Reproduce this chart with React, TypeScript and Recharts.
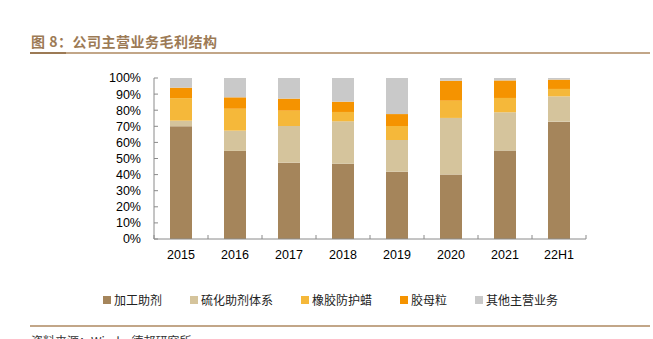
import React from 'react';
import { BarChart, Bar, XAxis, YAxis, Legend } from 'recharts';

const categories = ['2015', '2016', '2017', '2018', '2019', '2020', '2021', '22H1'];
const jiagong = [70, 54.7, 47.4, 46.8, 41.8, 40, 54.9, 72.9];
const liuhua = [3.5, 12.6, 22.8, 26.3, 19.7, 35.2, 23.8, 15.7];
const fanghula = [14, 13.6, 9.5, 5.8, 8.7, 10.7, 8.9, 4.6];
const jiaomuli = [6.5, 7.1, 7.5, 6.4, 7.4, 12.4, 10.9, 5.8];
const other = [6, 12, 12.8, 14.7, 22.4, 1.7, 1.5, 1.0];
const yTicks = [0, 10, 20, 30, 40, 50, 60, 70, 80, 90, 100];

const seriesNames = ['加工助剂', '硫化助剂体系', '橡胶防护蜡', '胶母粒', '其他主营业务'];
const seriesColors = ['#A5855B', '#D5C49C', '#F5B83A', '#F59300', '#C9C9C9'];
const seriesValues = [jiagong, liuhua, fanghula, jiaomuli, other];

const data = categories.map((c, i) => {
  const row: Record<string, any> = { name: c };
  seriesNames.forEach((s, k) => {
    row[s] = seriesValues[k][i];
  });
  return row;
});

const AXIS = '#8a8a8a';
const TICK_FONT = '"Liberation Sans", Arial, sans-serif';
const CJK = '"Noto Sans CJK SC", sans-serif';

const XTick = (props: any) => {
  const { x, y, payload, index } = props;
  const off = payload && payload.offset ? payload.offset : 0;
  const axisY = y - 11;
  return (
    <g>
      <line x1={x - off} x2={x - off} y1={axisY} y2={axisY - 4} stroke={AXIS} />
      {index === categories.length - 1 && (
        <line x1={x + off} x2={x + off} y1={axisY} y2={axisY - 4} stroke={AXIS} />
      )}
      <text x={x} y={y} dy="0.71em" textAnchor="middle" fill="#000" fontSize={12.5} fontFamily={TICK_FONT}>
        {payload.value}
      </text>
    </g>
  );
};

const LegendContent = () => (
  <div style={{ display: 'flex', alignItems: 'center', paddingLeft: 103, fontFamily: CJK, fontSize: 12, color: '#222', height: 17 }}>
    {seriesNames.map((s, k) => (
      <div key={s} style={{ display: 'flex', alignItems: 'center', marginRight: 28 }}>
        <span style={{ display: 'inline-block', width: 8, height: 8, background: seriesColors[k], marginRight: 3 }} />
        <span>{s}</span>
      </div>
    ))}
  </div>
);

export default function App() {
  return (
    <div style={{ position: 'absolute', left: 0, top: 0, width: 653, height: 339, background: '#fff', overflow: 'hidden' }}>
      <div style={{ position: 'absolute', left: 31, top: 31, fontFamily: CJK, fontWeight: 700, fontSize: 14, color: '#9C7A55', letterSpacing: 0.5, whiteSpace: 'nowrap' }}>
        图 8：公司主营业务毛利结构
      </div>
      <div style={{ position: 'absolute', left: 30, top: 52, width: 620, height: 2, background: '#C2A688' }} />
      <div style={{ position: 'absolute', left: 30, top: 52, width: 36, height: 2, background: '#9C7A55' }} />
      <div style={{ position: 'absolute', left: 30, top: 325, width: 620, height: 2, background: '#C2A688' }} />
      <div style={{ position: 'absolute', left: 31, top: 332, fontFamily: CJK, fontSize: 12, color: '#333', whiteSpace: 'nowrap' }}>
        资料来源：Wind，德邦研究所
      </div>
      <div style={{ position: 'absolute', left: 0, top: 0 }}>
        <BarChart width={653} height={339} data={data} margin={{ top: 78, right: 67, bottom: 52, left: 0 }} barSize={22}>
          <XAxis
            dataKey="name"
            stroke={AXIS}
            tickLine={false}
            tickSize={0}
            tickMargin={11}
            height={31}
            tick={<XTick />}
            interval={0}
          />
          <YAxis
            domain={[0, 100]}
            ticks={yTicks}
            width={154}
            stroke={AXIS}
            tickSize={-4}
            tickMargin={17}
            tickFormatter={(v: number) => `${v}%`}
            tick={{ fill: '#000', fontSize: 12.5, fontFamily: TICK_FONT }}
            interval={0}
          />
          <Legend
            verticalAlign="bottom"
            wrapperStyle={{ position: 'absolute', top: 291, left: 0, width: 653, height: 17 }}
            content={<LegendContent />}
          />
          {seriesNames.map((s, k) => (
            <Bar key={s} dataKey={s} stackId="a" fill={seriesColors[k]} isAnimationActive={false} />
          ))}
        </BarChart>
      </div>
    </div>
  );
}
